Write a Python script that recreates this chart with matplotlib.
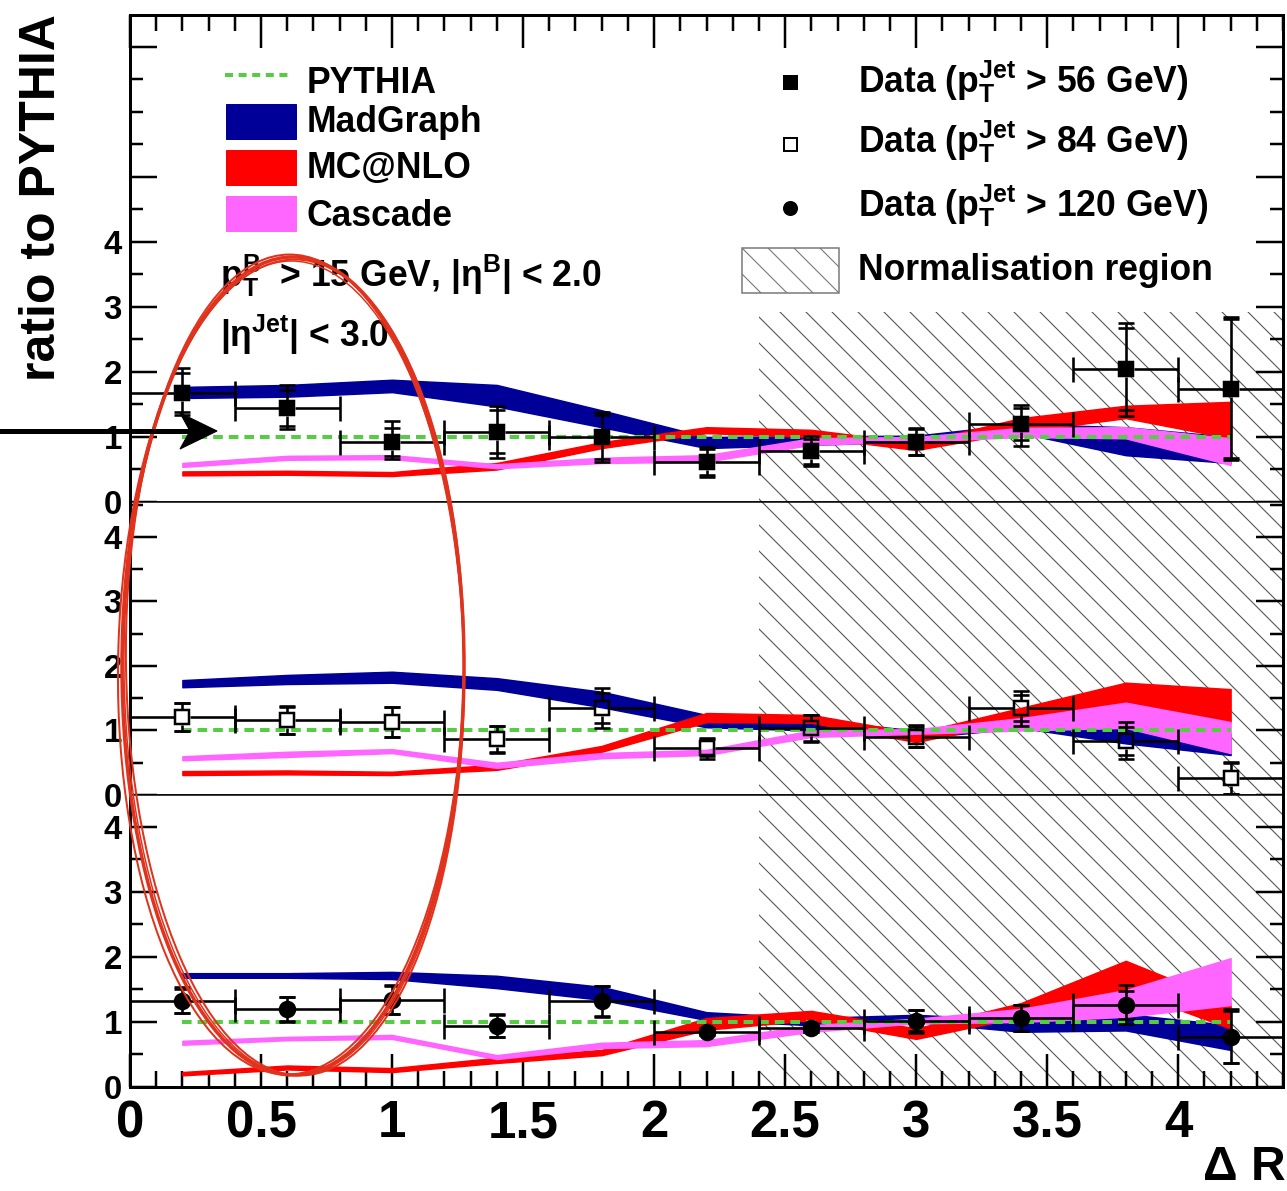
import numpy as np
import matplotlib
matplotlib.use('Agg')
import matplotlib.pyplot as plt
from matplotlib.patches import Rectangle, Ellipse, Polygon
from matplotlib.lines import Line2D
from matplotlib.ticker import FixedLocator, MultipleLocator, FixedFormatter

DPI = 78          # hatch spacing follows the dpi, 78 gives ~13 px like the original
W, H = 1287, 1191


def pt(px):
    return px * 72.0 / DPI


def fx(px):
    return px / W


def fy(py):
    return 1 - py / H


plt.rcParams['font.family'] = ['Liberation Sans', 'DejaVu Sans']
plt.rcParams['font.weight'] = 'bold'
plt.rcParams['mathtext.fontset'] = 'custom'
plt.rcParams['mathtext.rm'] = 'Liberation Sans:bold'
plt.rcParams['mathtext.it'] = 'Liberation Sans:bold'
plt.rcParams['mathtext.bf'] = 'Liberation Sans:bold'
plt.rcParams['mathtext.default'] = 'rm'
plt.rcParams['hatch.color'] = '#555555'
plt.rcParams['hatch.linewidth'] = pt(1.1)

# ---- data -------------------------------------------------------------
x = np.array([0.2, 0.6, 1.0, 1.4, 1.8, 2.2, 2.6, 3.0, 3.4, 3.8, 4.2])
x_half = 0.2
norm_start, norm_end = 2.4, 4.4
x_tick_vals = [0, 0.5, 1, 1.5, 2, 2.5, 3, 3.5, 4]
x_tick_labels = ['0', '0.5', '1', '1.5', '2', '2.5', '3', '3.5', '4']

# data, pT(jet) > 56 GeV
d56_y = [1.68, 1.45, 0.92, 1.08, 1.00, 0.62, 0.78, 0.92, 1.20, 2.05, 1.74]
d56_up = [0.38, 0.35, 0.32, 0.40, 0.38, 0.23, 0.24, 0.22, 0.29, 0.70, 1.10]
d56_dn = [0.34, 0.33, 0.26, 0.40, 0.38, 0.24, 0.23, 0.20, 0.34, 0.73, 1.09]
d56_stat = [0.30, 0.28, 0.22, 0.33, 0.34, 0.20, 0.19, 0.20, 0.25, 0.63, 1.07]
# data, pT(jet) > 84 GeV
d84_y = [1.21, 1.16, 1.13, 0.87, 1.35, 0.73, 1.04, 0.90, 1.35, 0.84, 0.26]
d84_up = [0.22, 0.22, 0.23, 0.20, 0.31, 0.15, 0.20, 0.19, 0.26, 0.29, 0.25]
d84_dn = [0.22, 0.21, 0.23, 0.22, 0.31, 0.17, 0.22, 0.16, 0.28, 0.28, 0.24]
d84_stat = [0.22, 0.21, 0.23, 0.20, 0.23, 0.13, 0.20, 0.16, 0.20, 0.22, 0.24]
# data, pT(jet) > 120 GeV
d120_y = [1.32, 1.20, 1.34, 0.94, 1.32, 0.85, 0.90, 1.02, 1.06, 1.26, 0.77]
d120_up = [0.22, 0.18, 0.23, 0.18, 0.23, 0.05, 0.05, 0.16, 0.20, 0.31, 0.43]
d120_dn = [0.18, 0.20, 0.22, 0.17, 0.24, 0.05, 0.05, 0.19, 0.20, 0.29, 0.40]
d120_stat = [0.18, 0.18, 0.22, 0.17, 0.23, 0.05, 0.05, 0.16, 0.20, 0.22, 0.40]

# model bands (ratio to PYTHIA), top / middle / bottom panel
mg56_lo = [1.60, 1.62, 1.69, 1.47, 1.15, 0.83, 0.88, 0.93, 1.06, 0.72, 0.60]
mg56_hi = [1.77, 1.80, 1.88, 1.80, 1.41, 1.00, 1.01, 1.02, 1.20, 1.15, 1.00]
nlo56_lo = [0.41, 0.42, 0.40, 0.50, 0.83, 1.06, 1.00, 0.80, 1.08, 1.29, 0.98]
nlo56_hi = [0.47, 0.48, 0.46, 0.60, 0.92, 1.15, 1.11, 0.91, 1.29, 1.48, 1.54]
cas56_lo = [0.54, 0.65, 0.66, 0.52, 0.60, 0.62, 0.88, 0.93, 1.00, 0.98, 0.57]
cas56_hi = [0.60, 0.71, 0.72, 0.58, 0.68, 0.72, 0.98, 1.00, 1.14, 1.15, 0.98]

mg84_lo = [1.67, 1.72, 1.74, 1.63, 1.36, 1.05, 1.00, 0.88, 1.04, 0.80, 0.62]
mg84_hi = [1.78, 1.86, 1.91, 1.81, 1.60, 1.24, 1.16, 1.00, 1.19, 1.08, 0.95]
nlo84_lo = [0.31, 0.32, 0.31, 0.39, 0.67, 1.13, 1.12, 0.82, 1.16, 1.40, 1.12]
nlo84_hi = [0.37, 0.38, 0.36, 0.47, 0.76, 1.27, 1.24, 0.96, 1.35, 1.74, 1.64]
cas84_lo = [0.54, 0.59, 0.65, 0.42, 0.57, 0.62, 0.90, 0.95, 1.00, 1.04, 0.65]
cas84_hi = [0.60, 0.67, 0.71, 0.50, 0.65, 0.70, 1.00, 1.02, 1.19, 1.43, 1.13]

mg120_lo = [1.68, 1.68, 1.66, 1.52, 1.34, 1.03, 0.95, 1.00, 0.85, 0.87, 0.57]
mg120_hi = [1.75, 1.75, 1.77, 1.71, 1.54, 1.15, 1.06, 1.11, 1.03, 1.12, 0.95]
nlo120_lo = [0.18, 0.27, 0.23, 0.37, 0.49, 0.88, 1.03, 0.74, 1.08, 1.49, 0.90]
nlo120_hi = [0.23, 0.33, 0.29, 0.45, 0.57, 1.06, 1.17, 0.90, 1.29, 1.94, 1.29]
cas120_lo = [0.65, 0.72, 0.74, 0.43, 0.60, 0.63, 0.85, 0.98, 1.00, 1.08, 1.26]
cas120_hi = [0.71, 0.77, 0.80, 0.49, 0.68, 0.72, 0.95, 1.05, 1.20, 1.49, 1.98]

pythia = [1.0] * len(x)

C_MG = '#000099'
C_NLO = '#ff0000'
C_CAS = '#ff66ff'
C_PY = '#55cc44'

# ---- figure -------------------------------------------------------------
fig = plt.figure(figsize=(W / DPI, H / DPI), dpi=DPI)
left, right = 130, 1283
ax_top = fig.add_axes([fx(left), fy(502), (right - left) / W, (502 - 15) / H])
ax_mid = fig.add_axes([fx(left), fy(795), (right - left) / W, (795 - 502) / H])
ax_bot = fig.add_axes([fx(left), fy(1087), (right - left) / W, (1087 - 795) / H])

panels = [
    (ax_top, 7.49, 2.92, (mg56_lo, mg56_hi), (nlo56_lo, nlo56_hi), (cas56_lo, cas56_hi),
     (d56_y, d56_dn, d56_up, d56_stat), 's', 'k'),
    (ax_mid, 4.54, 4.54, (mg84_lo, mg84_hi), (nlo84_lo, nlo84_hi), (cas84_lo, cas84_hi),
     (d84_y, d84_dn, d84_up, d84_stat), 's', 'none'),
    (ax_bot, 4.49, 4.49, (mg120_lo, mg120_hi), (nlo120_lo, nlo120_hi), (cas120_lo, cas120_hi),
     (d120_y, d120_dn, d120_up, d120_stat), 'o', 'k'),
]

for ax, ytop, hatch_top, mg, nlo, cas, dat, mk, mface in panels:
    ax.set_xlim(0, 4.4)
    ax.set_ylim(0, ytop)
    px_per_x = (right - left) / 4.4
    px_per_y = ax.get_position().height * H / ytop

    ax.add_patch(Rectangle((norm_start, 0), norm_end - norm_start, hatch_top,
                           facecolor='none', edgecolor='#555555', lw=0,
                           hatch='\\', zorder=1))

    ax.fill_between(x, mg[0], mg[1], color=C_MG, lw=pt(1.5), zorder=2)
    ax.fill_between(x, nlo[0], nlo[1], color=C_NLO, lw=pt(1.5), zorder=3)
    ax.fill_between(x, cas[0], cas[1], color=C_CAS, lw=pt(1.5), zorder=4)
    ax.plot(x, pythia, color=C_PY, lw=pt(4), dashes=(2.4, 1.5), zorder=5)

    yv, dn, up, st = (np.array(a) for a in dat)
    gx = 8 / px_per_x
    gy = 8 / px_per_y
    ekw = dict(color='k', lw=pt(2.6), zorder=6)
    ax.hlines(yv, x - x_half, x - gx, **ekw)
    ax.hlines(yv, x + gx, x + x_half, **ekw)
    ax.vlines(x, yv + np.minimum(gy, up), yv + up, **ekw)
    ax.vlines(x, yv - dn, yv - np.minimum(gy, dn), **ekw)
    # caps: x ends tall, y ends short (total + statistical)
    ax.plot(np.r_[x - x_half, x + x_half], np.r_[yv, yv], ls='none', marker='|',
            ms=pt(25), mew=pt(2.6), color='k', zorder=6, clip_on=False)
    ax.plot(np.r_[x, x, x, x], np.r_[yv + up, yv - dn, yv + st, yv - st], ls='none',
            marker='_', ms=pt(16), mew=pt(2.6), color='k', zorder=6)
    ax.plot(x, yv, ls='none', marker=mk, ms=pt(15 if mk == 'o' else 14),
            mfc=mface, mec='k', mew=pt(2.5), zorder=7)

    # axis cosmetics
    for s in ax.spines.values():
        s.set_linewidth(pt(3))
    ax.xaxis.set_major_locator(FixedLocator(x_tick_vals))
    ax.xaxis.set_minor_locator(MultipleLocator(0.1))
    ax.yaxis.set_minor_locator(MultipleLocator(0.5))
    ax.tick_params(axis='both', which='both', direction='in', width=pt(2.5))
    ax.tick_params(axis='y', which='major', length=pt(27), left=True, right=True,
                   labelsize=pt(33), pad=pt(8))
    ax.tick_params(axis='y', which='minor', length=pt(13), left=True, right=True)
    ax.tick_params(axis='x', which='major', length=pt(33), labelsize=pt(51), pad=pt(12))
    ax.tick_params(axis='x', which='minor', length=pt(16))

ax_top.yaxis.set_major_locator(FixedLocator([0, 1, 2, 3, 4, 5, 7]))
ax_top.yaxis.set_major_formatter(FixedFormatter(['0', '1', '2', '3', '4', '', '']))
for ax in (ax_mid, ax_bot):
    ax.yaxis.set_major_locator(FixedLocator([0, 1, 2, 3, 4]))
    ax.yaxis.set_major_formatter(FixedFormatter(['0', '1', '2', '3', '4']))

ax_top.tick_params(axis='x', which='both', top=True, bottom=False, labelbottom=False)
ax_mid.tick_params(axis='x', which='both', top=False, bottom=False, labelbottom=False)
ax_bot.tick_params(axis='x', which='both', top=False, bottom=True, labelbottom=True)
ax_bot.xaxis.set_major_formatter(FixedFormatter(x_tick_labels))
ax_top.spines['bottom'].set_linewidth(pt(1.5))
ax_mid.spines['top'].set_linewidth(pt(1.5))
ax_mid.spines['bottom'].set_linewidth(pt(1.5))
ax_bot.spines['top'].set_linewidth(pt(1.5))

# ---- labels ---------------------------------------------------------------
fig.text(fx(42), fy(14), 'ratio to PYTHIA', rotation=90, ha='center', va='top',
         fontsize=pt(50), fontweight='bold')
fig.text(fx(1286), fy(1190), 'Δ R', ha='right', va='bottom', fontsize=pt(48),
         fontweight='bold')

# ---- legends (drawn by hand, ROOT style) ----------------------------------
tfs = pt(35.5)
fig.add_artist(Line2D([fx(225), fx(292)], [fy(75), fy(75)], color=C_PY, lw=pt(4),
                      dashes=(2.0, 1.4), transform=fig.transFigure))
fig.text(fx(307), fy(93), 'PYTHIA', fontsize=tfs, va='baseline')
for (y0, y1, col, lab, base) in [(104, 139, C_MG, 'MadGraph', 132),
                                 (150, 185, C_NLO, 'MC@NLO', 178),
                                 (196, 231, C_CAS, 'Cascade', 226)]:
    fig.add_artist(Rectangle((fx(226), fy(y1)), (296 - 226) / W, (y1 - y0) / H,
                             facecolor=col, edgecolor=col, lw=pt(1),
                             transform=fig.transFigure))
    fig.text(fx(307), fy(base), lab, fontsize=tfs, va='baseline')

for (my, mk, mface, ms, lab, base) in [
        (82, 's', 'k', 13, r'Data ($p_{T}^{Jet}$ > 56 GeV)', 93),
        (144, 's', 'white', 13, r'Data ($p_{T}^{Jet}$ > 84 GeV)', 153),
        (208, 'o', 'k', 13, r'Data ($p_{T}^{Jet}$ > 120 GeV)', 217)]:
    fig.add_artist(Line2D([fx(790)], [fy(my)], ls='none', marker=mk, ms=pt(ms),
                          mfc=mface, mec='k', mew=pt(2), transform=fig.transFigure))
    fig.text(fx(858), fy(base), lab, fontsize=tfs, va='baseline')
fig.add_artist(Rectangle((fx(742), fy(293)), (839 - 742) / W, (293 - 248) / H,
                         facecolor='white', edgecolor='#777777', lw=pt(1.5),
                         hatch='\\', transform=fig.transFigure))
fig.text(fx(858), fy(280), 'Normalisation region', fontsize=tfs, va='baseline')

fig.text(fx(220), fy(287), r'$p_{T}^{B}\;$ > 15 GeV, |η$^{B}$| < 2.0', fontsize=tfs,
         va='baseline')
fig.text(fx(220), fy(347), r'|η$^{Jet}$| < 3.0', fontsize=tfs, va='baseline')

# ---- annotations: hand-drawn red ellipse and black arrow -------------------
for (cx, cy, w, h, ang, lw) in [(293, 666, 342, 818, 0.0, 3.5),
                                (295, 665, 338, 821, 0.8, 2.0),
                                (291, 667, 346, 815, -0.6, 2.0),
                                (294, 668, 340, 814, 0.4, 1.5)]:
    fig.add_artist(Ellipse((fx(cx), fy(cy)), w / W, h / H, angle=ang, fill=False,
                           edgecolor='#e0321c', lw=pt(lw), transform=fig.transFigure,
                           zorder=20))
fig.add_artist(Line2D([fx(0), fx(195)], [fy(431), fy(431)], color='k', lw=pt(5),
                      transform=fig.transFigure, zorder=21))
fig.add_artist(Polygon([(fx(217), fy(431)), (fx(180), fy(413)), (fx(190), fy(431)),
                        (fx(180), fy(449))], closed=True, facecolor='k', edgecolor='k',
                       transform=fig.transFigure, zorder=21))

fig.savefig('out.png', dpi=DPI)
